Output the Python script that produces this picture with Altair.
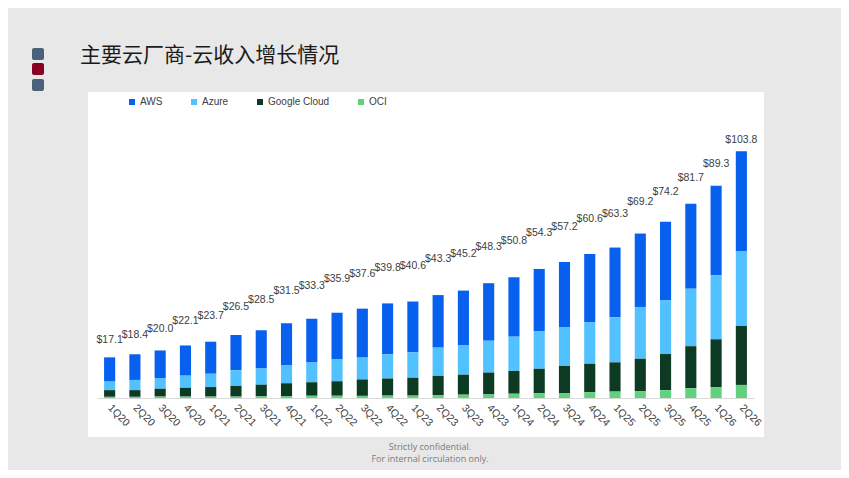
import altair as alt
import pandas as pd

quarters = ["1Q20", "2Q20", "3Q20", "4Q20", "1Q21", "2Q21", "3Q21", "4Q21",
            "1Q22", "2Q22", "3Q22", "4Q22", "1Q23", "2Q23", "3Q23", "4Q23",
            "1Q24", "2Q24", "3Q24", "4Q24", "1Q25", "2Q25", "3Q25", "4Q25",
            "1Q26", "2Q26"]
aws = [10.2, 10.8, 11.6, 12.7, 13.5, 14.8, 16.1, 17.8, 18.4, 19.7, 20.6, 21.4, 21.4,
       22.1, 23.1, 24.2, 25.0, 26.3, 27.5, 28.8, 29.3, 30.9, 33.0, 35.7, 37.6, 42.2]
azure = [3.6, 4.3, 4.5, 5.1, 5.6, 6.6, 6.8, 7.5, 8.3, 9.2, 9.2, 10.2, 10.7,
         11.9, 12.3, 13.4, 14.4, 15.7, 16.2, 17.4, 19.0, 21.8, 22.7, 24.2, 27.0, 31.3]
google = [2.8, 2.8, 3.3, 3.7, 4.0, 4.5, 4.9, 5.4, 5.7, 6.1, 6.9, 7.2, 7.5,
          8.1, 8.4, 9.2, 9.6, 10.3, 11.4, 12.0, 12.3, 13.6, 15.2, 17.7, 20.1, 24.8]
oci = [0.5, 0.5, 0.6, 0.6, 0.6, 0.6, 0.7, 0.8, 0.9, 0.9, 0.9, 1.0, 1.0,
       1.2, 1.4, 1.5, 1.8, 2.0, 2.1, 2.4, 2.7, 2.9, 3.3, 4.1, 4.6, 5.5]
totals = [17.1, 18.4, 20.0, 22.1, 23.7, 26.5, 28.5, 31.5, 33.3, 35.9, 37.6, 39.8, 40.6,
          43.3, 45.2, 48.3, 50.8, 54.3, 57.2, 60.6, 63.3, 69.2, 74.2, 81.7, 89.3, 103.8]

series_names = ["AWS", "Azure", "Google Cloud", "OCI"]
series_colors = ["#0760ee", "#52c1ff", "#0c3a22", "#61d17e"]
stack_rank = {"OCI": 0, "Google Cloud": 1, "Azure": 2, "AWS": 3}

title_text = "主要云厂商-云收入增长情况"
footer_1 = "Strictly confidential."
footer_2 = "For internal circulation only."

rows = []
for name, vals in zip(series_names, [aws, azure, google, oci]):
    for q, v in zip(quarters, vals):
        rows.append({"quarter": q, "series": name, "value": v, "rank": stack_rank[name]})
df = pd.DataFrame(rows)
tot_df = pd.DataFrame({"quarter": quarters, "total": totals,
                       "label": ["$" + f"{t:.1f}" for t in totals]})
one = pd.DataFrame({"k": [0]})

W, H = 657, 268
FONT = "Liberation Sans"

x_enc = alt.X("quarter:N", sort=quarters,
              scale=alt.Scale(paddingInner=0.56, paddingOuter=0.28),
              axis=alt.Axis(title=None, labelAngle=45, labelAlign="left",
                            labelBaseline="middle", labelPadding=8, ticks=False,
                            tickSize=0, domainColor="#d9d9d9", labelFont=FONT,
                            labelFontSize=10.5, labelColor="#404040", grid=False,
                            zindex=2))

panel = alt.Chart(one).mark_rect(color="white").encode(
    x=alt.value(-9), x2=alt.value(667), y=alt.value(-38), y2=alt.value(307))

sq1 = alt.Chart(one).mark_rect(color="#4b607a", cornerRadius=2).encode(
    x=alt.value(-65), x2=alt.value(-53), y=alt.value(-82), y2=alt.value(-70))
sq2 = alt.Chart(one).mark_rect(color="#8a0022", cornerRadius=2).encode(
    x=alt.value(-65), x2=alt.value(-53), y=alt.value(-67), y2=alt.value(-55))
sq3 = alt.Chart(one).mark_rect(color="#4b607a", cornerRadius=2).encode(
    x=alt.value(-65), x2=alt.value(-53), y=alt.value(-51), y2=alt.value(-39))

title = alt.Chart(one).mark_text(text=title_text, font="Noto Sans CJK SC", fontSize=21,
                                 align="left", baseline="middle", color="#1a1a1a").encode(
    x=alt.value(-17), y=alt.value(-74))

foot1 = alt.Chart(one).mark_text(text=footer_1, font="Open Sans", fontSize=9,
                                 align="center", baseline="middle", color="#7a7a7a").encode(
    x=alt.value(333), y=alt.value(317))
foot2 = alt.Chart(one).mark_text(text=footer_2, font="Open Sans", fontSize=9,
                                 align="center", baseline="middle", color="#7a7a7a").encode(
    x=alt.value(333), y=alt.value(329))

bars = alt.Chart(df).mark_bar().encode(
    x=x_enc,
    y=alt.Y("value:Q", stack="zero",
            scale=alt.Scale(domain=[0, 112.76], nice=False, zero=True), axis=None),
    color=alt.Color("series:N",
                    scale=alt.Scale(domain=series_names, range=series_colors),
                    legend=alt.Legend(title=None, orient="none", direction="horizontal",
                                      legendX=30, legendY=-33, symbolType="square",
                                      symbolSize=36, symbolStrokeWidth=0,
                                      labelFont=FONT, labelFontSize=10,
                                      labelColor="#404040", columnPadding=26,
                                      labelOffset=3, padding=0)),
    order=alt.Order("rank:Q", sort="ascending"),
)

labels = alt.Chart(tot_df).mark_text(font=FONT, fontSize=10.5, color="#404040",
                                     baseline="middle", align="center").encode(
    x=alt.X("quarter:N", sort=quarters),
    y=alt.Y("total:Q", scale=alt.Scale(type="sqrt", domain=[5.66, 110.04],
                                       nice=False, zero=False), axis=None),
    text="label:N",
)

chart = alt.layer(panel, sq1, sq2, sq3, title, foot1, foot2, bars, labels).resolve_scale(
    y="independent"
).properties(
    width=W, height=H, autosize="none",
    padding={"left": 89, "top": 122, "right": 87, "bottom": 72},
    background="#e8e8e8",
).configure_view(stroke=None)

chart.save("out.html", embed_options={"renderer": "svg", "actions": False})
